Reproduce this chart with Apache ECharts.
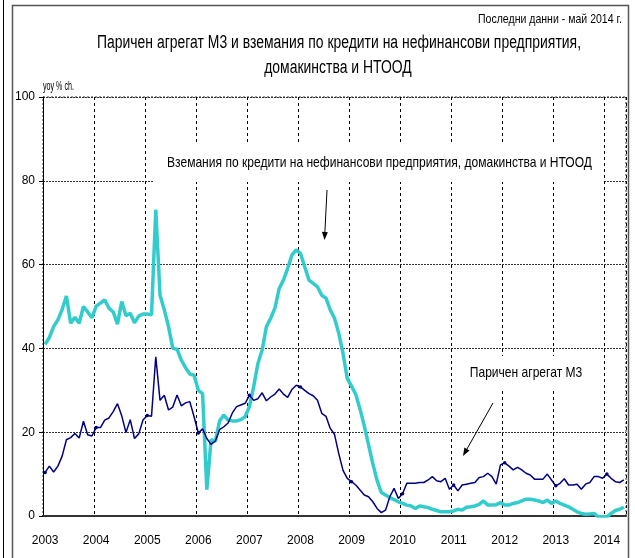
<!DOCTYPE html>
<html>
<head>
<meta charset="utf-8">
<script src="https://cdn.jsdelivr.net/npm/echarts@6/dist/echarts.min.js"></script>
<style>
  html, body { margin: 0; padding: 0; background: #fff; }
  #chart { width: 635px; height: 558px; }
</style>
</head>
<body>
<div id="chart"></div>
<script>
const years = ['2003', '2004', '2005', '2006', '2007', '2008', '2009', '2010', '2011', '2012', '2013', '2014'];

// Паричен агрегат М3, yoy %
const m3 = [
    10.4, 11.9, 10.5, 11.9, 14.3, 18.2, 18.7, 19.7, 18.6, 22.6, 19.4, 19.1,
    21.1, 21.1, 22.9, 23.4, 24.9, 26.8, 23.9, 19.9, 23.0, 18.5, 19.6, 22.9,
    24.0, 23.8, 38.0, 27.6, 28.8, 25.3, 26.0, 28.9, 26.3, 27.0, 27.3, 23.7,
    19.8, 20.8, 18.5, 17.1, 17.9, 20.6, 21.3, 22.2, 24.6, 26.1, 26.5, 26.9,
    28.8, 27.6, 28.0, 29.4, 27.5, 28.4, 29.1, 30.3, 29.1, 28.3, 30.2, 31.2,
    30.8, 30.0, 29.2, 28.7, 27.6, 24.5, 23.8, 20.9, 19.5, 14.9, 10.9, 9.0,
    8.2, 7.4, 6.2, 5.0, 4.6, 3.4, 1.8, 0.8, 1.4, 4.6, 6.6, 4.2,
    5.3, 7.8, 7.8, 7.8, 8.0, 8.0, 8.6, 9.4, 8.4, 8.2, 9.0, 6.4,
    7.4, 6.0, 7.4, 7.6, 7.8, 8.0, 9.2, 9.4, 10.2, 9.4, 7.6, 12.2,
    12.7, 11.9, 11.0, 11.6, 11.0, 10.2, 9.8, 8.8, 8.8, 8.8, 10.0, 8.6,
    7.2, 7.8, 8.9, 7.4, 7.4, 7.6, 6.4, 7.6, 8.0, 9.4, 9.4, 9.0,
    10.0, 9.0, 8.2, 8.0, 8.6
];

// Вземания по кредити на нефинансови предприятия, домакинства и НТООД, yoy %
const credit = [
    41.0, 42.6, 45.2, 46.8, 49.3, 52.5, 46.0, 47.4, 46.0, 50.0, 48.7, 47.3,
    50.1, 50.8, 51.6, 49.6, 48.7, 45.8, 51.2, 47.8, 48.4, 46.1, 47.7, 48.2,
    48.2, 48.0, 73.1, 52.7, 49.2, 45.2, 40.0, 39.8, 37.2, 35.4, 33.9, 33.6,
    30.0, 29.2, 6.3, 18.2, 17.8, 22.7, 24.1, 22.9, 22.7, 22.7, 23.0, 23.7,
    26.1, 30.8, 36.4, 39.6, 45.2, 47.2, 49.6, 54.3, 56.3, 59.1, 62.3, 63.5,
    62.7, 59.5, 56.3, 55.5, 54.7, 52.7, 52.0, 49.2, 47.2, 43.6, 38.8, 32.8,
    31.0, 29.0, 25.5, 21.5, 17.0, 12.5, 8.5, 5.6, 5.0, 4.4, 3.9, 3.4,
    3.0, 2.6, 2.4, 1.8, 2.4, 2.2, 2.0, 1.6, 1.3, 1.0, 1.0, 1.0,
    1.2, 1.6, 1.4, 2.1, 2.2, 2.4, 2.8, 3.6, 2.6, 2.6, 2.7, 3.2,
    2.6, 2.6, 3.0, 3.2, 3.6, 4.0, 4.0, 3.8, 3.6, 3.2, 3.8, 3.0,
    3.6, 3.0, 2.6, 2.2, 1.6, 1.0, 0.6, 0.4, 0.5, 0.6, -0.2, -0.2,
    -0.2, 0.6, 1.3, 1.6, 2.1
];

const titleLines = ['Паричен агрегат М3 и вземания по кредити на нефинансови предприятия,', 'домакинства и НТООД'];
const lastData = 'Последни данни - май 2014 г.';
const creditLabel = 'Вземания по кредити на нефинансови предприятия, домакинства и НТООД';
const m3Label = 'Паричен агрегат М3';
const unitLabel = 'yoy % ch.';

const FONT = '"Liberation Sans Narrow", "Liberation Sans", sans-serif';

// monthly categories, Jan 2003 - May 2014
let months = [];
years.forEach(function (y) {
    for (let m = 1; m <= 12; m++) {
        if (months.length < m3.length) {
            months.push(y + '-' + (m < 10 ? '0' + m : m));
        }
    }
});

function isJanuary(index, value) {
    return value.slice(5) === '01';
}

// the reference uses a very condensed face, so squeeze text horizontally
const ctx = document.createElement('canvas').getContext('2d');
function squeeze(text, size, width) {
    ctx.font = size + 'px ' + FONT;
    return width / ctx.measureText(text).width;
}

function txt(text, x, y, size, sx, align) {
    return {
        type: 'text', z: 100, x: x, y: y, scaleX: sx,
        style: { text: text, font: size + 'px ' + FONT, fill: '#000', align: align || 'center', verticalAlign: 'middle' }
    };
}

function arrow(x1, y1, x2, y2) {
    let ang = Math.atan2(y2 - y1, x2 - x1);
    let len = 8, half = 3;
    let bx = x2 - len * Math.cos(ang), by = y2 - len * Math.sin(ang);
    let px = -Math.sin(ang) * half, py = Math.cos(ang) * half;
    return [
        { type: 'line', z: 100, shape: { x1: x1, y1: y1, x2: bx, y2: by }, style: { stroke: '#000', lineWidth: 1 } },
        { type: 'polygon', z: 100, shape: { points: [[x2, y2], [bx + px, by + py], [bx - px, by - py]] }, style: { fill: '#000' } }
    ];
}

function whiteBox(left, top, w, h) {
    return { type: 'rect', z: 99, shape: { x: left, y: top, width: w, height: h }, style: { fill: '#fff' } };
}

const titleScale = squeeze(titleLines[0], 18, 484);
const noteScale = squeeze(creditLabel, 15, 425);

const chart = echarts.init(document.getElementById('chart'));

chart.setOption({
    animation: false,
    backgroundColor: '#fff',
    textStyle: { fontFamily: FONT },
    grid: {
        left: 43, right: 9, top: 97, bottom: 42,
        show: true, borderColor: '#333', borderWidth: 1, borderType: [2, 2]
    },
    xAxis: {
        type: 'category',
        data: months,
        boundaryGap: true,
        axisLine: { lineStyle: { color: '#333', width: 2 } },
        axisTick: { interval: isJanuary, length: 4, lineStyle: { color: '#000' } },
        axisLabel: {
            interval: isJanuary,
            formatter: function (v) { return v.slice(0, 4); },
            fontSize: 12, color: '#000', margin: 19, fontFamily: FONT
        },
        splitLine: { show: true, interval: isJanuary, lineStyle: { color: '#000', type: [3, 3], width: 1 } }
    },
    yAxis: {
        type: 'value',
        min: 0, max: 100, interval: 20,
        axisLine: { show: true, lineStyle: { color: '#000', width: 1 } },
        axisTick: { show: true, length: 4, lineStyle: { color: '#000' } },
        axisLabel: { fontSize: 12, color: '#000', margin: 8, fontFamily: FONT },
        splitLine: { show: true, lineStyle: { color: '#333', type: [2, 1], width: 1 } }
    },
    series: [
        {
            name: creditLabel,
            type: 'line',
            data: credit,
            symbol: 'none',
            clip: true,
            lineStyle: { color: '#33CCCC', width: 3.5 },
            itemStyle: { color: '#33CCCC' },
            z: 2
        },
        {
            name: m3Label,
            type: 'line',
            data: m3,
            symbol: 'circle',
            symbolSize: 3.5,
            clip: true,
            lineStyle: { color: '#000080', width: 1.5 },
            itemStyle: { color: '#000080' },
            z: 3
        }
    ],
    graphic: [
        { type: 'line', z: 100, shape: { x1: 3.5, y1: 0, x2: 3.5, y2: 558 }, style: { stroke: '#000', lineWidth: 1 } },
        { type: 'rect', z: 100, shape: { x: 12.5, y: 5.5, width: 616, height: 600 }, style: { fill: null, stroke: '#555', lineWidth: 1.5 } },
        txt(titleLines[0], 339, 43, 18, titleScale),
        txt(titleLines[1], 338, 68, 18, titleScale),
        txt(lastData, 622, 19, 13, squeeze(lastData, 13, 144), 'right'),
        txt(unitLabel, 43, 87, 12, squeeze(unitLabel, 12, 31), 'left'),
        whiteBox(153, 143, 451, 39),
        txt(creditLabel, 379.5, 163, 15, noteScale),
        whiteBox(460, 356, 132, 34),
        txt(m3Label, 526, 373, 15, noteScale)
    ]
        .concat(arrow(327, 190, 324.5, 240))
        .concat(arrow(493, 403, 463, 456))
});
</script>
</body>
</html>
